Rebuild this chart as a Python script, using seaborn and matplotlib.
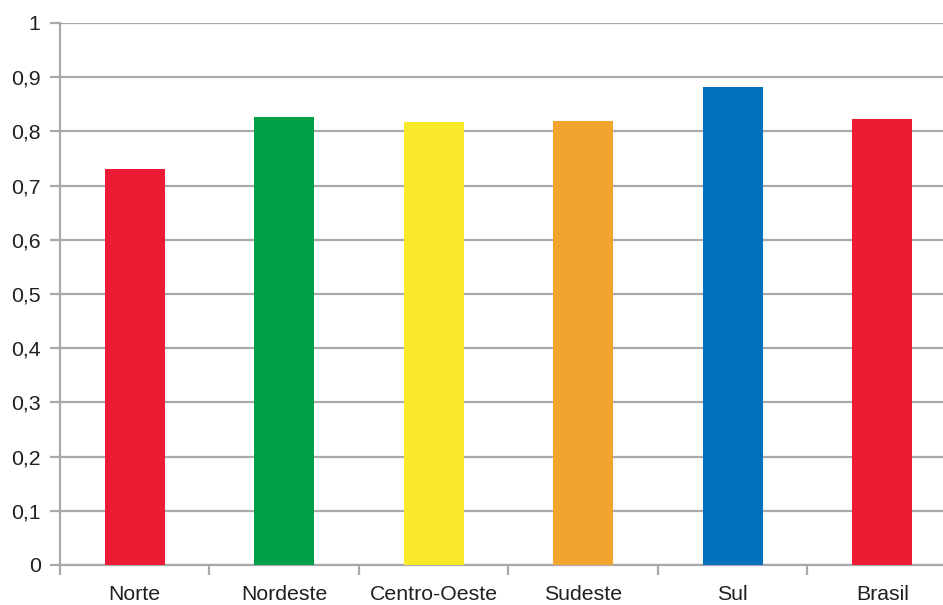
import matplotlib
matplotlib.use("Agg")
import matplotlib.pyplot as plt
import seaborn as sns
import pandas as pd
from matplotlib.ticker import FixedLocator, FuncFormatter

regioes = ["Norte", "Nordeste", "Centro-Oeste", "Sudeste", "Sul", "Brasil"]
valores = [0.730, 0.826, 0.818, 0.820, 0.881, 0.822]
cores = ["#ED1B34", "#00A04B", "#F8E92B", "#F2A52E", "#0071BA", "#ED1B34"]
yticks = [0, 0.1, 0.2, 0.3, 0.4, 0.5, 0.6, 0.7, 0.8, 0.9, 1.0]

sns.set_theme(style="white")
plt.rcParams["font.family"] = ["Liberation Sans", "DejaVu Sans"]

df = pd.DataFrame({"regiao": regioes, "valor": valores})

fig = plt.figure(figsize=(9.43, 6.05), dpi=100)
ax = fig.add_axes([60 / 943, 1 - 565 / 605, 897 / 943, 542 / 605])

sns.barplot(data=df, x="regiao", y="valor", hue="regiao", palette=cores,
            width=0.4, saturation=1, legend=False, ax=ax, zorder=3,
            linewidth=0, edgecolor="none")

grid_color = "#A7A9AC"
text_color = "#231F20"
ax.set_ylim(0, 1)
ax.set_xlim(-0.5, 5.5)
ax.set_yticks(yticks)
ax.yaxis.set_major_formatter(
    FuncFormatter(lambda v, _: "0" if v == 0 else ("1" if v == 1 else f"{v:.1f}".replace(".", ",")))
)
ax.yaxis.grid(True, color=grid_color, linewidth=1.6, zorder=0)
ax.set_axisbelow(True)

# category boundaries carry the x tick marks
ax.xaxis.set_minor_locator(FixedLocator([i - 0.5 for i in range(len(regioes) + 1)]))
ax.tick_params(axis="x", which="major", length=0, pad=14.5, labelsize=15.3, colors=text_color)
ax.tick_params(axis="x", which="minor", length=7, width=1.6, color=grid_color, direction="out", bottom=True)
ax.tick_params(axis="y", which="major", length=7, width=1.6, color=grid_color, direction="out",
               left=True, pad=7, labelsize=15.3, labelcolor=text_color)

for side in ["top", "right"]:
    ax.spines[side].set_visible(False)
for side in ["left", "bottom"]:
    ax.spines[side].set_color(grid_color)
    ax.spines[side].set_linewidth(1.6)

ax.set_xlabel("")
ax.set_ylabel("")

fig.savefig("out.png", dpi=100, facecolor="white")
